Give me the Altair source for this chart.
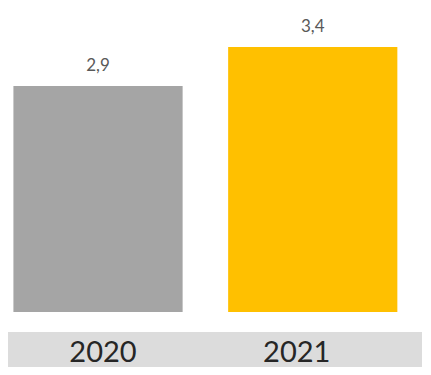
import altair as alt
import pandas as pd

years = ["2020", "2021"]
values = [2.9, 3.4]
labels = ["2,9", "3,4"]
colors = ["#A5A5A5", "#FFC000"]

df = pd.DataFrame({"year": years, "value": values, "label": labels})

x = alt.X(
    "year:N",
    sort=years,
    scale=alt.Scale(paddingInner=0.212, paddingOuter=0.07, align=0.18),
    axis=alt.Axis(
        title=None, labelAngle=0, labelFont="Lato", labelFontSize=29,
        labelColor="#262626", ticks=False, domain=False, labelPadding=6,
        labelOffset={"condition": {"test": "datum.label == '2021'", "value": -16}, "value": 5},
    ),
)
y = alt.Y("value:Q", scale=alt.Scale(domain=[-0.257, 3.90], nice=False, zero=False), axis=None)

bars = alt.Chart(df).mark_bar().encode(
    x=x,
    y=y,
    y2=alt.datum(0),
    color=alt.Color("year:N", scale=alt.Scale(domain=years, range=colors), legend=None),
)

text = alt.Chart(df).mark_text(
    font="Lato", fontSize=17, color="#595959", dy=-15, baseline="alphabetic"
).encode(
    x=alt.X("year:N", sort=years),
    y="value:Q",
    text="label:N",
)

chart = (
    alt.layer(bars, text)
    .properties(width=414, height=324, background="#dcdcdc", padding=0)
    .configure_view(fill="white", strokeWidth=0)
)

chart.save("out.html", embed_options={"renderer": "svg", "actions": False})
